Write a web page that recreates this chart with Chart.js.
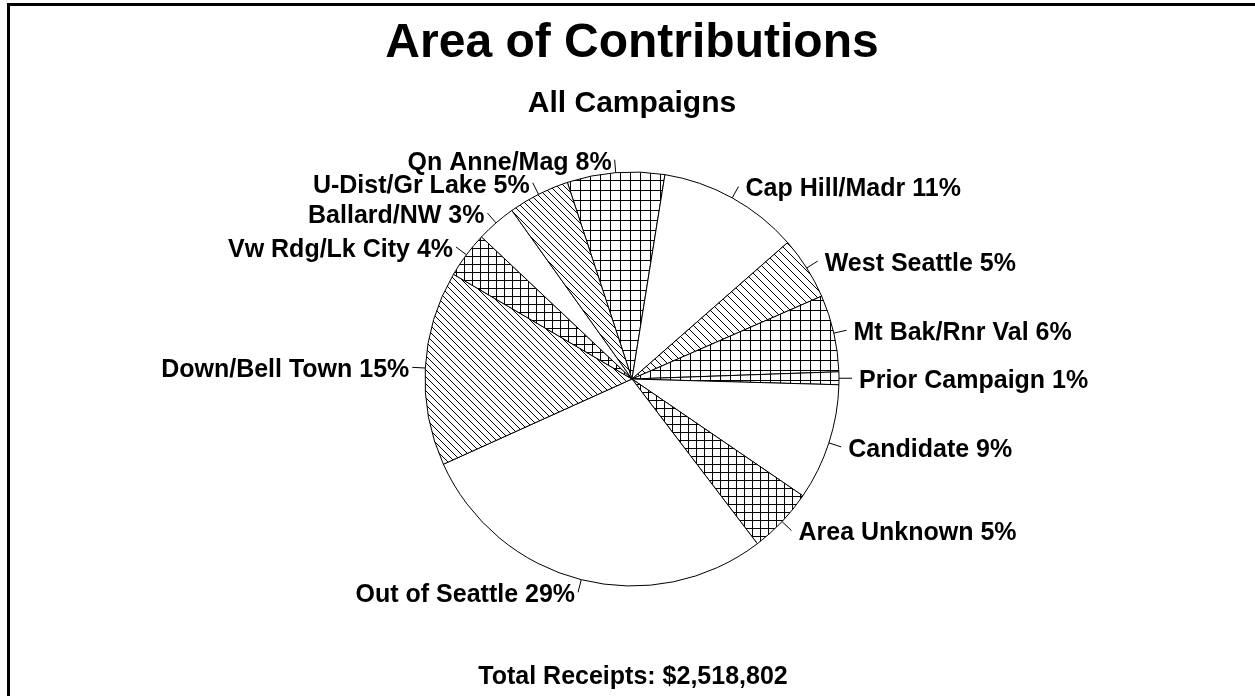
<!DOCTYPE html>
<html>
<head>
<meta charset="utf-8">
<title>Area of Contributions</title>
<script src="https://cdn.jsdelivr.net/npm/chart.js@4/dist/chart.umd.min.js"></script>
<style>
  html, body { margin: 0; padding: 0; background: #fff; }
  canvas { display: block; }
</style>
</head>
<body>
<canvas id="areaPie" width="1255" height="696"></canvas>
<script>
// Area of Contributions - all campaigns, share of receipts by area (%)
const areas = ['Qn Anne/Mag', 'Cap Hill/Madr', 'West Seattle', 'Mt Bak/Rnr Val', 'Prior Campaign',
    'Candidate', 'Area Unknown', 'Out of Seattle', 'Down/Bell Town', 'Vw Rdg/Lk City',
    'Ballard/NW', 'U-Dist/Gr Lake'];
const shares = [7.6, 11.0, 4.9, 6.0, 1.0, 9.1, 5.1, 28.6, 15.2, 3.6, 3.1, 4.8];
const hatches = ['grid10', 'none', 'diag8', 'grid10', 'grid10', 'none', 'grid8', 'none', 'diag7', 'grid8', 'none', 'diag7'];
const totalReceipts = '$2,518,802';

const FONT = "'Liberation Sans', Arial, sans-serif";

function makePattern(kind){
    if (kind === 'none') return '#ffffff';
    const size = parseInt(kind.replace(/\D/g, ''), 10);
    const c = document.createElement('canvas');
    c.width = size; c.height = size;
    const g = c.getContext('2d');
    g.fillStyle = '#fff';
    g.fillRect(0, 0, size, size);
    g.fillStyle = '#000';
    g.strokeStyle = '#000';
    if (kind.startsWith('grid')) {
        g.fillRect(0, 0, size, 1);
        g.fillRect(0, 0, 1, size);
    } else {
        // "\" lines
        g.lineWidth = 1;
        g.beginPath();
        g.moveTo(-1, -1); g.lineTo(size + 1, size + 1);
        g.moveTo(-1, size - 1); g.lineTo(1, size + 1);
        g.moveTo(size - 1, -1); g.lineTo(size + 1, 1);
        g.stroke();
    }
    return g.createPattern(c, 'repeat');
}

const total = shares.reduce((s, v) => s + v, 0);

const pageDecor = {
    id: 'pageDecor',
    beforeDraw(chart){
        const ctx = chart.ctx;
        ctx.save();
        ctx.fillStyle = '#fff';
        ctx.fillRect(0, 0, chart.width, chart.height);
        ctx.fillStyle = '#000';
        ctx.fillRect(7, 3, chart.width - 7, 3);
        ctx.fillRect(7, 3, 3, chart.height - 3);
        ctx.textAlign = 'center';
        ctx.textBaseline = 'middle';
        ctx.font = 'bold 48px ' + FONT;
        ctx.fillText('Area of Contributions', 632, 44);
        ctx.font = 'bold 30px ' + FONT;
        ctx.fillText('All Campaigns', 632, 104);
        ctx.font = 'bold 25px ' + FONT;
        ctx.fillText('Total Receipts: ' + totalReceipts, 633, 677);
        ctx.restore();
    }
};

const sliceLabels = {
    id: 'sliceLabels',
    afterDatasetsDraw(chart){
        const ctx = chart.ctx;
        const meta = chart.getDatasetMeta(0);
        ctx.save();
        ctx.strokeStyle = '#000';
        ctx.lineWidth = 1;
        ctx.fillStyle = '#000';
        ctx.font = 'bold 25px ' + FONT;
        ctx.textBaseline = 'middle';
        meta.data.forEach((arc, i) => {
            const p = arc.getProps(['x', 'y', 'startAngle', 'endAngle', 'outerRadius'], true);
            const mid = (p.startAngle + p.endAngle) / 2;
            const cos = Math.cos(mid), sin = Math.sin(mid);
            const r = p.outerRadius;
            const ex = p.x + cos * (r + 13), ey = p.y + sin * (r + 13);
            ctx.beginPath();
            ctx.moveTo(p.x + cos * r, p.y + sin * r);
            ctx.lineTo(ex, ey);
            ctx.stroke();
            const pct = Math.round(shares[i] / total * 100);
            const right = cos >= 0;
            ctx.textAlign = right ? 'left' : 'right';
            ctx.fillText(areas[i] + ' ' + pct + '%', ex + (right ? 7 : -3), ey + 3);
        });
        ctx.restore();
    }
};

const chart = new Chart(document.getElementById('areaPie'), {
    type: 'pie',
    data: {
        labels: areas,
        datasets: [{
            data: shares,
            backgroundColor: hatches.map(makePattern),
            borderColor: '#000',
            borderWidth: 1
        }]
    },
    options: {
        responsive: false,
        animation: false,
        rotation: -18.2,
        radius: 207,
        layout: { padding: { left: 9, top: 62, right: 0, bottom: 0 } },
        plugins: {
            legend: { display: false },
            tooltip: { enabled: false },
            title: { display: false }
        }
    },
    plugins: [pageDecor, sliceLabels]
});
</script>
</body>
</html>
